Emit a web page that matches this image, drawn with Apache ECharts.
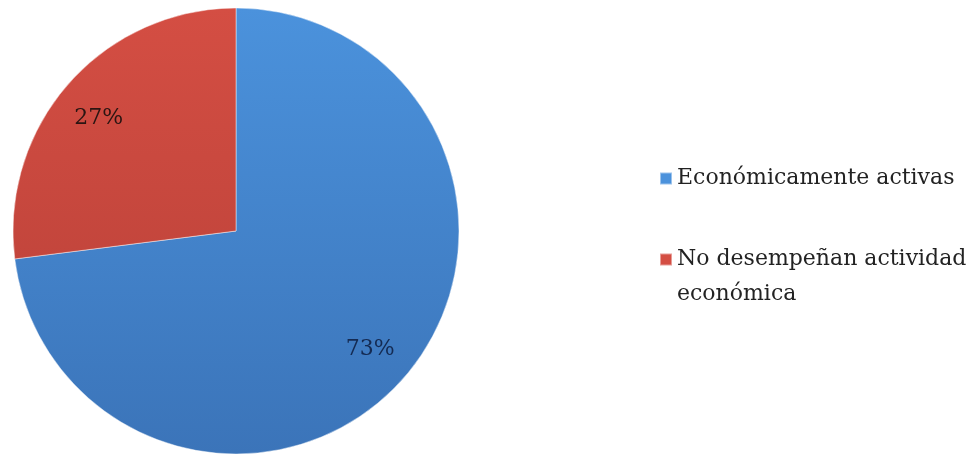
<!DOCTYPE html>
<html>
<head>
<meta charset="utf-8">
<script src="https://cdn.jsdelivr.net/npm/echarts@6/dist/echarts.min.js"></script>
<style>
  html, body { margin: 0; padding: 0; background: #ffffff; }
  #chart { width: 978px; height: 456px; }
</style>
</head>
<body>
<div id="chart"></div>
<script>
// Population split by economic activity
const categories = ['Económicamente activas', 'No desempeñan actividad económica'];
const shares = [73, 27];
const legendLabels = ['Económicamente activas', 'No desempeñan actividad\neconómica'];

const fills = [
  { top: '#4b92dc', bottom: '#3b74b9' },
  { top: '#d44e43', bottom: '#b63f37' }
];
const labelColors = ['#142a52', '#2a1512'];
// small nudges for the percentage labels
const labelShift = [[0, 0], [-3, 6]];

const cx = 236, cy = 231, r = 223;

function grad(c) {
  return new echarts.graphic.LinearGradient(0, cy - r, 0, cy + r, [
    { offset: 0, color: c.top },
    { offset: 1, color: c.bottom }
  ], true);
}

const pieData = categories.map((name, i) => ({
  name: name,
  value: shares[i],
  itemStyle: { color: grad(fills[i]) }
}));

const labelData = categories.map((name, i) => ({
  name: name,
  value: shares[i],
  label: { color: labelColors[i] }
}));

const chart = echarts.init(document.getElementById('chart'), null, { renderer: 'canvas' });

const legendText = { fontFamily: 'DejaVu Serif', fontSize: 22, lineHeight: 35, color: '#222222' };

chart.setOption({
  animation: false,
  backgroundColor: '#ffffff',
  color: [fills[0].top, fills[1].top],
  legend: [
    {
      data: [categories[0]],
      left: 654,
      top: 156,
      orient: 'vertical',
      itemWidth: 12,
      itemHeight: 12,
      icon: 'rect',
      selectedMode: false,
      formatter: () => legendLabels[0],
      textStyle: legendText
    },
    {
      data: [categories[1]],
      left: 654,
      top: 202,
      orient: 'vertical',
      itemWidth: 12,
      itemHeight: 12,
      icon: 'rect',
      selectedMode: false,
      formatter: () => '\n' + legendLabels[1],
      textStyle: legendText
    }
  ],
  series: [
    {
      type: 'pie',
      center: [cx, cy],
      radius: [0, r],
      startAngle: 90,
      clockwise: true,
      silent: true,
      label: { show: false },
      labelLine: { show: false },
      itemStyle: { borderColor: 'rgba(255,255,255,0.45)', borderWidth: 1 },
      data: pieData
    },
    {
      // transparent ring that only carries the percentage labels
      type: 'pie',
      center: [cx, cy],
      radius: [160, 192],
      startAngle: 90,
      clockwise: true,
      silent: true,
      itemStyle: { color: 'rgba(0,0,0,0)' },
      labelLine: { show: false },
      label: {
        show: true,
        position: 'inside',
        formatter: '{c}%',
        fontFamily: 'DejaVu Serif',
        fontSize: 22
      },
      labelLayout: (p) => ({ dx: labelShift[p.dataIndex][0], dy: labelShift[p.dataIndex][1] }),
      data: labelData
    }
  ]
});
</script>
</body>
</html>
